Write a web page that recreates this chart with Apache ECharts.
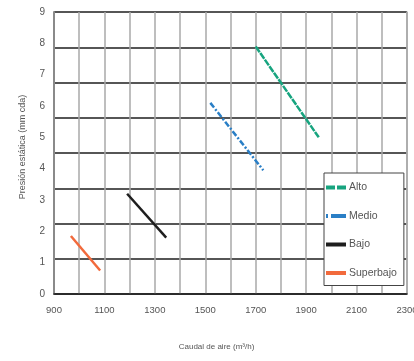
<!DOCTYPE html>
<html><head><meta charset="utf-8">
<script src="https://cdn.jsdelivr.net/npm/echarts@6/dist/echarts.min.js"></script>
<style>html,body{margin:0;padding:0;background:#fff}#c{width:414px;height:361px}</style>
</head><body><div id="c"></div>
<script>
const seriesNames = ['Alto', 'Medio', 'Bajo', 'Superbajo'];
const altoX = [1700, 1950];
const altoY = [7.9, 5.0];
const medioX = [1520, 1730];
const medioY = [6.1, 3.95];
const bajoX = [1190, 1345];
const bajoY = [3.2, 1.8];
const superbajoX = [967, 1083];
const superbajoY = [1.85, 0.75];
const xTitle = 'Caudal de aire (m³/h)';
const yTitle = 'Presión estática (mm cda)';

const FONT = '"Liberation Sans Narrow", "Liberation Sans", sans-serif';
const colors = ['#17a47f', '#2a7fc6', '#1e1e1e', '#f26a3c'];
const lineTypes = [[7, 1], [6, 2, 2, 2], 'solid', 'solid'];
const legendTypes = [[9, 2], [2, 3, 14, 0], 'solid', 'solid'];
const xs = [altoX, medioX, bajoX, superbajoX];
const ys = [altoY, medioY, bajoY, superbajoY];

const chart = echarts.init(document.getElementById('c'), null, {renderer: 'canvas'});
chart.setOption({
  animation: false,
  backgroundColor: '#fff',
  grid: {left: 54, right: 7, top: 12, bottom: 67, outerBoundsMode: 'none', containLabel: false},
  xAxis: {
    type: 'value', min: 900, max: 2300, interval: 100,
    name: xTitle, nameLocation: 'middle', nameGap: 49,
    nameTextStyle: {fontFamily: FONT, fontSize: 8, color: '#555', padding: [0, 28, 0, 0]},
    axisLine: {show: true, lineStyle: {color: '#1e1e1e', width: 1.5}},
    axisTick: {show: false},
    axisLabel: {fontFamily: FONT, fontSize: 9.5, color: '#555', margin: 11,
      formatter: v => ((v - 900) % 200 === 0 ? String(v) : '')},
    splitLine: {show: true, lineStyle: {color: '#a8a8a8', width: 1.5}}
  },
  yAxis: [{
    type: 'value', min: 0, max: 9, interval: 1, position: 'left',
    name: yTitle, nameLocation: 'middle', nameGap: 27, nameRotate: 90,
    nameTextStyle: {fontFamily: FONT, fontSize: 9, color: '#555', padding: [0, 0, 0, 12]},
    axisLine: {show: true, lineStyle: {color: '#8a8a8a', width: 2}},
    axisTick: {show: false},
    axisLabel: {fontFamily: FONT, fontSize: 10, color: '#555', margin: 9},
    splitLine: {show: false}
  }, {
    type: 'value', min: 0, max: 8, interval: 1, position: 'right',
    axisLine: {show: true, lineStyle: {color: '#a8a8a8', width: 1.5}},
    axisTick: {show: false},
    axisLabel: {show: false},
    splitLine: {show: true, lineStyle: {color: '#1e1e1e', width: 1.5}}
  }],
  legend: {
    show: true, z: 10,
    orient: 'vertical', left: 324, top: 173,
    padding: [9, 7, 7, 0],
    itemGap: 17.5, itemWidth: 20, itemHeight: 12,
    backgroundColor: '#fff', borderColor: '#444', borderWidth: 1,
    textStyle: {fontFamily: FONT, fontSize: 10.5, color: '#555', padding: [0, 0, 0, -2]},
    data: seriesNames.map((n, i) => ({name: n,
      itemStyle: {opacity: 0},
      lineStyle: {color: colors[i], width: 4, type: legendTypes[i], opacity: 1}}))
  },
  series: seriesNames.map((n, i) => ({
    name: n, type: 'line', yAxisIndex: 0, symbol: 'none', silent: true,
    lineStyle: {color: colors[i], width: 2.5, type: lineTypes[i]},
    itemStyle: {color: colors[i]},
    data: xs[i].map((x, j) => [x, ys[i][j]])
  }))
});
</script></body></html>
